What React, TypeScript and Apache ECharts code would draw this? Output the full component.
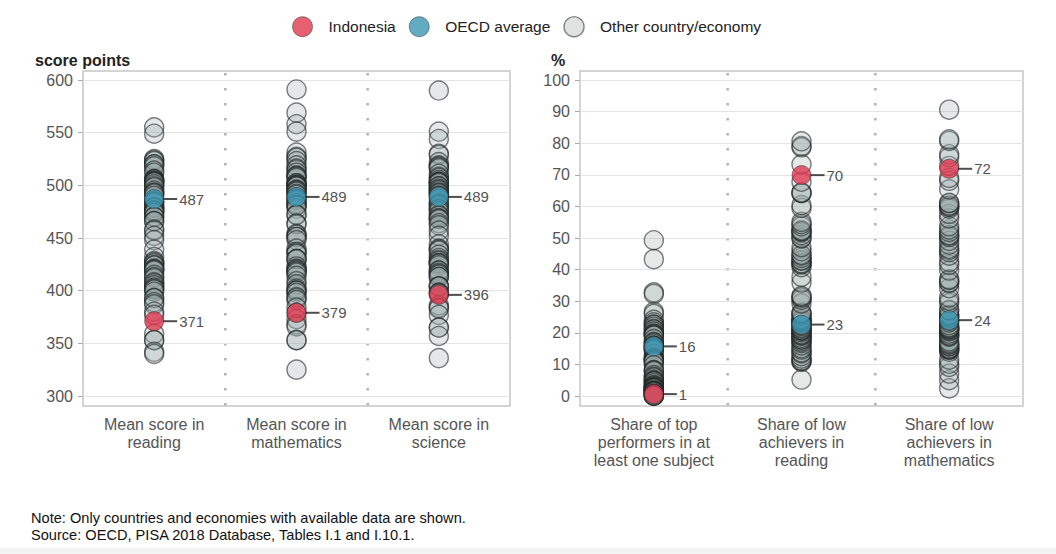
import React, { useEffect, useRef } from "react";
import * as echarts from "echarts";

// ---------- DATA ----------
const scoreCategories = ["Mean score in\nreading", "Mean score in\nmathematics", "Mean score in\nscience"];
const shareCategories = [
  "Share of top\nperformers in at\nleast one subject",
  "Share of low\nachievers in\nreading",
  "Share of low\nachievers in\nmathematics",
];
const scoreTicks = { min: 300, max: 600, interval: 50 };
const shareTicks = { min: 0, max: 100, interval: 10 };

const otherReading = [555, 549, 525, 524, 523, 520, 520, 518, 514, 512, 506, 506, 505, 504, 504, 503, 503, 501, 499, 498, 495, 493, 493, 492, 490, 485, 484, 484, 479, 479, 479, 476, 476, 476, 474, 474, 470, 470, 466, 466, 458, 457, 452, 448, 439, 432, 428, 427, 426, 424, 424, 421, 420, 420, 419, 415, 413, 412, 408, 407, 405, 403, 402, 401, 399, 393, 393, 389, 387, 380, 377, 359, 353, 353, 342, 340];
const otherMath = [591, 569, 558, 551, 531, 527, 526, 523, 519, 516, 515, 512, 509, 509, 508, 507, 502, 502, 501, 500, 500, 499, 499, 496, 495, 495, 494, 492, 491, 488, 487, 486, 483, 481, 481, 481, 478, 472, 472, 464, 463, 454, 453, 451, 451, 448, 440, 437, 436, 435, 430, 430, 430, 423, 421, 420, 419, 418, 417, 414, 409, 406, 402, 400, 400, 398, 394, 393, 391, 384, 379, 373, 368, 366, 353, 353, 325];
const otherScience = [590, 551, 544, 530, 529, 522, 519, 518, 517, 516, 511, 508, 507, 505, 503, 503, 503, 502, 499, 499, 497, 496, 495, 493, 493, 492, 490, 490, 487, 483, 482, 481, 478, 477, 475, 472, 471, 469, 468, 468, 464, 462, 457, 452, 444, 440, 439, 438, 434, 431, 429, 428, 426, 426, 426, 424, 419, 419, 417, 416, 415, 413, 413, 404, 404, 404, 398, 398, 397, 386, 384, 383, 377, 365, 365, 357, 336];
const otherTopPerformers = [49.3, 43.3, 32.8, 32.3, 26.6, 26.0, 24.1, 23.3, 22.6, 22.5, 21.9, 21.2, 21.0, 20.4, 19.8, 19.6, 19.4, 19.2, 19.1, 18.0, 17.1, 16.9, 16.6, 15.9, 15.9, 15.9, 15.2, 15.2, 15.1, 14.8, 14.5, 13.3, 12.2, 12.0, 11.6, 11.5, 11.3, 11.1, 10.8, 9.7, 8.2, 8.1, 7.9, 6.6, 6.1, 5.8, 5.1, 4.8, 4.7, 4.6, 4.1, 3.5, 3.3, 3.1, 2.8, 2.7, 2.7, 2.6, 2.5, 2.5, 2.0, 1.6, 1.6, 1.6, 1.5, 1.5, 1.4, 1.4, 1.1, 0.6, 0.5, 0.5, 0.2, 0.2, 0.2, 0.1, 0.1];
const otherLowReading = [5.2, 10.8, 11.1, 11.2, 11.8, 12.6, 13.5, 13.8, 14.7, 15.1, 16.0, 16.8, 17.3, 17.8, 17.9, 18.4, 19.0, 19.3, 19.3, 19.6, 20.2, 20.7, 20.7, 20.9, 21.3, 21.6, 22.1, 22.4, 23.3, 23.4, 23.6, 23.6, 24.1, 24.4, 25.3, 25.9, 26.1, 26.4, 29.3, 30.5, 31.1, 31.4, 31.7, 35.9, 37.7, 40.8, 41.6, 41.9, 42.0, 42.8, 42.9, 43.7, 44.4, 44.7, 45.8, 47.1, 49.9, 50.0, 50.9, 51.8, 52.1, 52.2, 52.4, 53.7, 54.4, 55.1, 59.5, 60.4, 64.2, 64.3, 64.4, 67.8, 73.3, 78.7, 79.1, 80.6];
const otherLowMath = [2.4, 5.0, 7.1, 9.2, 10.2, 11.5, 14.0, 14.6, 14.7, 15.0, 15.0, 15.7, 15.8, 16.3, 16.4, 16.8, 17.3, 18.8, 18.9, 19.2, 19.7, 20.4, 20.7, 21.1, 21.1, 21.3, 21.6, 21.8, 22.4, 23.3, 23.8, 24.7, 25.1, 25.6, 25.6, 27.1, 27.2, 29.4, 30.2, 31.2, 34.1, 35.8, 35.9, 36.7, 36.9, 39.7, 41.5, 42.4, 44.4, 45.5, 46.2, 46.6, 47.9, 49.1, 50.3, 50.7, 50.9, 51.9, 52.7, 53.7, 56.2, 57.6, 59.3, 59.8, 60.0, 60.3, 61.0, 61.1, 65.4, 68.1, 69.0, 72.8, 75.6, 76.5, 80.7, 81.2, 90.6];

const indonesiaScores = [371, 379, 396];
const oecdScores = [487, 489, 489];
const indonesiaShares = [0.6, 69.9, 71.9];
const oecdShares = [15.7, 22.6, 24.0];

const legendNames = ["Indonesia", "OECD average", "Other country/economy"];
const noteLines = [
  "Note: Only countries and economies with available data are shown.",
  "Source: OECD, PISA 2018 Database, Tables I.1 and I.10.1.",
];

// ---------- STYLE / LAYOUT ----------
const FONT = "'Liberation Sans', Arial, Helvetica, sans-serif";
const RED = "#e0384f";
const BLUE = "#3a97b4";
const GRIDS = [
  { left: 83, width: 427, top: 80, height: 316 },
  { left: 580, width: 443, top: 80, height: 316 },
];
const FRAME_TOP = 71;
const FRAME_BOTTOM = 406;

const otherStyle = {
  color: "rgba(150,165,166,0.32)",
  borderColor: "rgba(35,40,40,0.75)",
  borderWidth: 1.4,
};

export default function App() {
  const ref = useRef<HTMLDivElement>(null);

  useEffect(() => {
    if (!ref.current) return;
    const chart = echarts.init(ref.current, undefined, { renderer: "svg" });

    const toPoints = (cols: number[][]) =>
      cols.flatMap((vals, ci) => vals.map((v) => [ci, v]));
    const toHighlight = (vals: number[]) => vals.map((v, ci) => [ci, v]);

    const highlightLabel = {
      show: true,
      position: "right",
      distance: -1,
      formatter: (p: any) => `{ln|}{v|${Math.round(p.value[1])}}`,
      rich: {
        ln: { width: 14, height: 2, backgroundColor: "#222", verticalAlign: "middle" },
        v: { fontSize: 15, color: "#222", fontFamily: FONT, padding: [0, 0, 0, 2], verticalAlign: "middle" },
      },
    };

    const mkOther = (gi: number, cols: number[][]) => ({
      name: legendNames[2],
      type: "scatter",
      xAxisIndex: gi,
      yAxisIndex: gi,
      symbolSize: 19,
      itemStyle: otherStyle,
      data: toPoints(cols),
      z: 2,
    });
    const mkHi = (gi: number, name: string, color: string, vals: number[], z: number) => ({
      name,
      type: "scatter",
      xAxisIndex: gi,
      yAxisIndex: gi,
      symbolSize: 19,
      itemStyle: { color, borderColor: "rgba(40,40,40,0.6)", borderWidth: 1 },
      label: highlightLabel,
      data: toHighlight(vals),
      z,
    });

    const xAxisBase = (gi: number, cats: string[]) => ({
      type: "category",
      gridIndex: gi,
      data: cats,
      boundaryGap: true,
      axisLine: { show: false },
      axisTick: { show: false },
      splitLine: { show: false },
      axisLabel: {
        color: "#555",
        fontSize: 16,
        lineHeight: 18,
        fontFamily: FONT,
        margin: 19,
        interval: 0,
        verticalAlign: "top",
      },
    });
    const yAxisBase = (gi: number, t: { min: number; max: number; interval: number }) => ({
      type: "value",
      gridIndex: gi,
      min: t.min,
      max: t.max,
      interval: t.interval,
      axisLine: { show: false },
      axisTick: { show: true, length: 5, lineStyle: { color: "#aaa" } },
      splitLine: { show: true, lineStyle: { color: "#e4e4e4", width: 1 } },
      axisLabel: { color: "#555", fontSize: 16, fontFamily: FONT, margin: 10 },
    });

    const graphics: any[] = [];
    GRIDS.forEach((g) => {
      graphics.push({
        type: "rect",
        shape: { x: g.left, y: FRAME_TOP, width: g.width, height: FRAME_BOTTOM - FRAME_TOP },
        style: { fill: "none", stroke: "#c6c6c6", lineWidth: 1.5 },
        z: 0,
      });
      for (let k = 1; k < 3; k++) {
        const x = g.left + (g.width * k) / 3;
        graphics.push({
          type: "line",
          shape: { x1: x, y1: FRAME_TOP + 2, x2: x, y2: FRAME_BOTTOM },
          style: { stroke: "#b4b4b4", lineWidth: 2.6, lineDash: [2.6, 12.4] },
          z: 0,
        });
      }
    });
    graphics.push(
      { type: "text", left: 35, top: 52, style: { text: "score points", font: `bold 16px ${FONT}`, fill: "#222" } },
      { type: "text", left: 551, top: 52, style: { text: "%", font: `bold 16px ${FONT}`, fill: "#222" } },
      { type: "text", left: 31, top: 510, style: { text: noteLines[0], font: `14.6px ${FONT}`, fill: "#111" } },
      { type: "text", left: 31, top: 527, style: { text: noteLines[1], font: `14.6px ${FONT}`, fill: "#111" } },
      { type: "rect", shape: { x: 0, y: 548, width: 1056, height: 6 }, style: { fill: "#f3f3f3" }, z: -1 }
    );

    chart.setOption({
      animation: false,
      backgroundColor: "#ffffff",
      textStyle: { fontFamily: FONT },
      legend: {
        left: 287,
        top: 11,
        itemWidth: 20,
        itemHeight: 20,
        itemGap: 13,
        textStyle: { fontSize: 15.5, color: "#222", fontFamily: FONT, padding: [0, 0, 0, 11] },
        data: [
          { name: legendNames[0], icon: "circle", itemStyle: { color: RED, borderColor: "rgba(40,40,40,0.6)", borderWidth: 1 } },
          { name: legendNames[1], icon: "circle", itemStyle: { color: BLUE, borderColor: "rgba(40,40,40,0.6)", borderWidth: 1 } },
          { name: legendNames[2], icon: "circle", itemStyle: { color: "#d6dbdb", borderColor: "#666", borderWidth: 1.4 } },
        ],
      },
      grid: GRIDS.map((g) => ({ ...g, containLabel: false })),
      xAxis: [xAxisBase(0, scoreCategories), xAxisBase(1, shareCategories)],
      yAxis: [yAxisBase(0, scoreTicks), yAxisBase(1, shareTicks)],
      series: [
        mkOther(0, [otherReading, otherMath, otherScience]),
        mkOther(1, [otherTopPerformers, otherLowReading, otherLowMath]),
        mkHi(0, legendNames[1], BLUE, oecdScores, 3),
        mkHi(1, legendNames[1], BLUE, oecdShares, 3),
        mkHi(0, legendNames[0], RED, indonesiaScores, 4),
        mkHi(1, legendNames[0], RED, indonesiaShares, 4),
      ],
      graphic: graphics,
    });

    return () => chart.dispose();
  }, []);

  return (
    <div
      ref={ref}
      style={{ position: "fixed", left: 0, top: 0, width: 1056, height: 554, background: "#fff" }}
    />
  );
}
